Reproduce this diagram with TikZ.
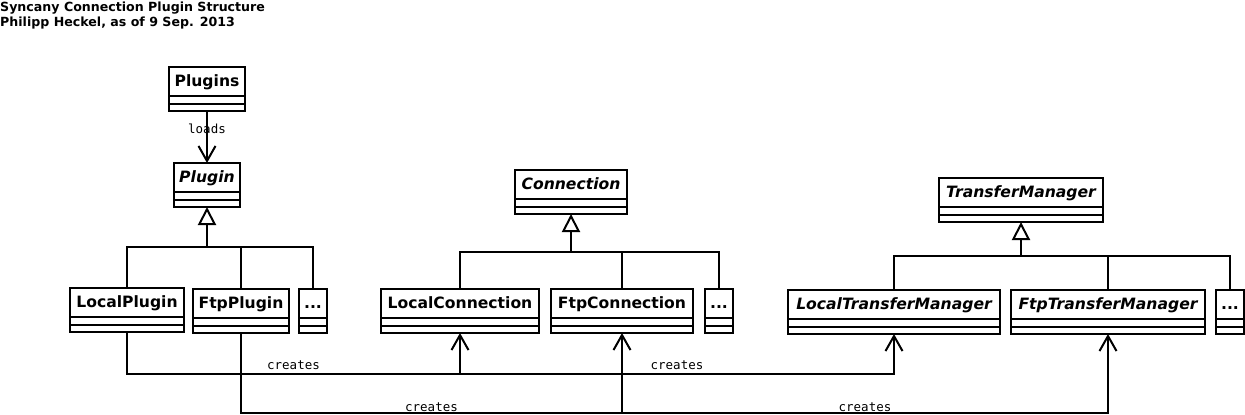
\documentclass[tikz,border=0pt]{standalone}
\usepackage{fontspec}
\setmainfont{DejaVu Sans}
\newfontfamily\monofont{DejaVu Sans Mono}
\usetikzlibrary{arrows.meta,calc}

\tikzset{
  classbox/.style={draw, line width=2pt, inner sep=0pt, outer sep=0pt},
  classname/.style={font=\fontsize{15.6}{18}\selectfont\bfseries, inner sep=0pt, anchor=base},
  abstractname/.style={font=\fontsize{15.6}{18}\selectfont\bfseries\itshape, inner sep=0pt, anchor=base},
  compart/.style={line width=2pt},
  treeline/.style={line width=2pt},
  inherit/.style={line width=2.6pt, -{Triangle[open, length=18pt, width=18pt, line width=2pt]}},
  depends/.style={line width=2pt, -{Straight Barb[length=15pt, width=17pt]}},
  connlabel/.style={font=\monofont\fontsize{12.5}{14}\selectfont, inner sep=0pt, anchor=base},
  heading/.style={font=\fontsize{12.6}{15}\selectfont\bfseries, inner sep=0pt, anchor=base west},
}

% UML class: name, x1, y1, x2, y2, text style, class name
\newcommand\umlclass[7]{%
  \node[classbox, minimum width={#4-#2}, minimum height={#5-#3}] (#1) at ({(#2+#4)/2},{(#3+#5)/2}) {};
  \draw[compart] ($(#1.north west)+(0,29)$) -- ($(#1.north east)+(0,29)$);
  \draw[compart] ($(#1.north west)+(0,37)$) -- ($(#1.north east)+(0,37)$);
  \node[#6] (#1-name) at ({(#2+#4)/2},{#3+19.5}) {#7};
}

\begin{document}
\begin{tikzpicture}[x=1pt,y=-1pt]
\useasboundingbox (0,0) rectangle (1245,415);

% heading
\node[heading] (title) at (0,12) {Syncany Connection Plugin Structure};
\node[heading] (author) at (0,27) {Philipp Heckel, as of 9 Sep. 2013};

% plugin hierarchy
\umlclass{Plugins}{169}{67}{245}{111}{classname}{Plugins}
\umlclass{Plugin}{174}{163}{240}{207}{abstractname}{Plugin}
\umlclass{LocalPlugin}{70}{288}{184}{332}{classname}{LocalPlugin}
\umlclass{FtpPlugin}{193}{289}{289}{333}{classname}{FtpPlugin}
\umlclass{MorePlugin}{299}{289}{327}{333}{classname}{...}

% connection hierarchy
\umlclass{Connection}{515}{170}{627}{214}{abstractname}{Connection}
\umlclass{LocalConnection}{381}{289}{539}{333}{classname}{LocalConnection}
\umlclass{FtpConnection}{551}{289}{693}{333}{classname}{FtpConnection}
\umlclass{MoreConnection}{705}{289}{733}{333}{classname}{...}

% transfer manager hierarchy
\umlclass{TransferManager}{939}{178}{1103}{222}{abstractname}{TransferManager}
\umlclass{LocalTransferManager}{788}{290}{1000}{334}{abstractname}{LocalTransferManager}
\umlclass{FtpTransferManager}{1011}{290}{1205}{334}{abstractname}{FtpTransferManager}
\umlclass{MoreTransferManager}{1216}{290}{1244}{334}{classname}{...}

% Plugins loads Plugin
\draw[depends] (Plugins.south) -- (Plugin.north) node[connlabel, pos=0.43] (loads) {loads};

% generalisation trees
\coordinate (pbar) at (207,247);
\draw[treeline] (LocalPlugin.north) |- (pbar);
\draw[treeline] (FtpPlugin.north) |- (pbar);
\draw[treeline] (MorePlugin.north) |- (pbar);
\draw[inherit] (pbar) -- (Plugin.south);

\coordinate (cbar) at (571,252);
\draw[treeline] (LocalConnection.north) |- (cbar);
\draw[treeline] (FtpConnection.north) |- (cbar);
\draw[treeline] (MoreConnection.north) |- (cbar);
\draw[inherit] (cbar) -- (Connection.south);

\coordinate (tbar) at (1021,256);
\draw[treeline] (LocalTransferManager.north) |- (tbar);
\draw[treeline] (FtpTransferManager.north) |- (tbar);
\draw[treeline] (MoreTransferManager.north) |- (tbar);
\draw[inherit] (tbar) -- (TransferManager.south);

% creates relations
\draw[depends] (LocalPlugin.south) -- ++(0,42) -| (LocalConnection.south);
\draw[depends] (LocalPlugin.south) -- ++(0,42) -| (LocalTransferManager.south);
\draw[depends] (FtpPlugin.south) -- ++(0,80) -| (FtpConnection.south);
\draw[depends] (FtpPlugin.south) -- ++(0,80) -| (FtpTransferManager.south);

\node[connlabel] (cr1) at (293.5,369.5) {creates};
\node[connlabel] (cr2) at (677,369.5) {creates};
\node[connlabel] (cr3) at (431.5,411) {creates};
\node[connlabel] (cr4) at (865,411) {creates};
\end{tikzpicture}
\end{document}
